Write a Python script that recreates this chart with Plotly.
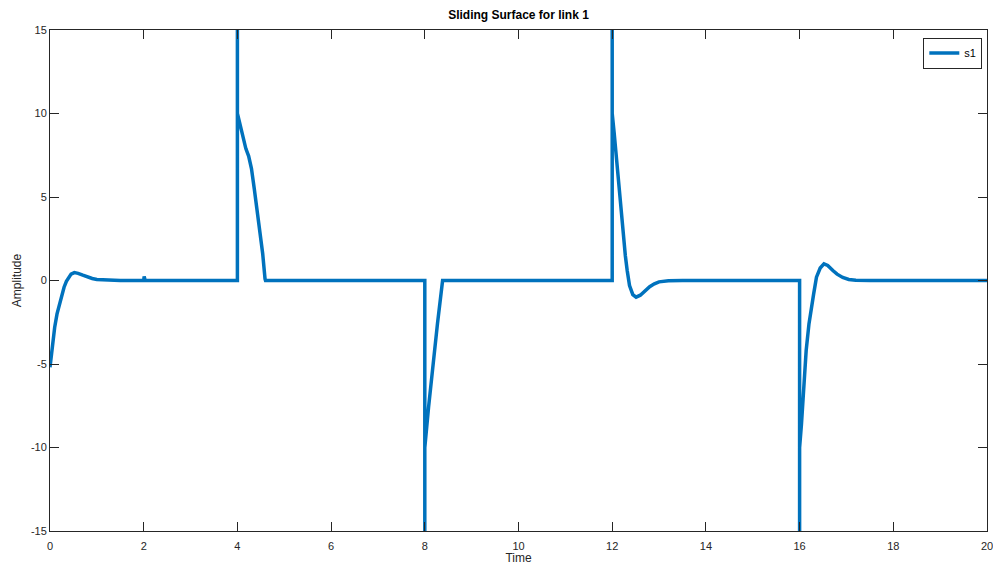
import plotly.graph_objects as go

# Sliding surface s1 over time
time = [0.0, 0.05, 0.1, 0.15, 0.2, 0.25, 0.3, 0.35, 0.4, 0.45, 0.52, 0.6, 0.7, 0.8, 0.9, 1.0, 1.2, 1.5,
        2.0, 2.01, 2.03,
        4.0, 4.0, 4.0, 4.06, 4.12, 4.18, 4.24, 4.3, 4.36, 4.42, 4.48, 4.54, 4.59, 4.6,
        8.0, 8.0, 8.0, 8.08, 8.17, 8.27, 8.38,
        12.0, 12.0, 12.0, 12.04, 12.08, 12.12, 12.16, 12.2, 12.24, 12.28, 12.32, 12.37, 12.44, 12.51, 12.6, 12.7, 12.8, 12.9, 13.0, 13.2, 13.5,
        16.0, 16.0, 16.0, 16.04, 16.07, 16.1, 16.14, 16.2, 16.25, 16.3, 16.36, 16.44, 16.52, 16.6, 16.71, 16.8, 16.92, 17.05, 17.2, 17.5,
        20.0]
s1 = [-5.2, -3.9, -2.8, -2.0, -1.4, -0.85, -0.4, -0.05, 0.22, 0.38, 0.47, 0.43, 0.32, 0.2, 0.12, 0.06, 0.02, 0.0,
      0.0, 0.25, 0.0,
      0.0, 60.0, 10.0, 9.3, 8.6, 7.9, 7.45, 6.7, 5.5, 4.3, 3.0, 1.6, 0.1, 0.0,
      0.0, -60.0, -10.0, -7.6, -5.0, -2.6, 0.0,
      0.0, 60.0, 10.0, 8.9, 7.6, 6.3, 5.0, 3.8, 2.6, 1.5, 0.6, -0.3, -0.85, -1.0, -0.88, -0.6, -0.37, -0.2, -0.08, -0.02, 0.0,
      0.0, -60.0, -10.0, -8.6, -7.2, -5.7, -4.2, -2.6, -1.6, -0.8, 0.2, 0.75, 1.0, 0.9, 0.6, 0.38, 0.18, 0.06, 0.01, 0.0,
      0.0]

x_ticks = [0, 2, 4, 6, 8, 10, 12, 14, 16, 18, 20]
y_ticks = [-15, -10, -5, 0, 5, 10, 15]

axis_color = "#262626"
font_family = "Liberation Sans, Arial, sans-serif"

fig = go.Figure()
fig.add_trace(go.Scatter(
    x=time, y=s1, mode="lines", name="s1",
    line=dict(color="#0072BD", width=3.5),
))

common_axis = dict(
    showgrid=False, zeroline=False, showline=True, linecolor=axis_color, linewidth=1,
    mirror="ticks", ticks="inside", ticklen=9, tickwidth=1, tickcolor=axis_color,
    tickfont=dict(family=font_family, size=11, color=axis_color),
    automargin=False, ticklabeloverflow="allow",
)

fig.update_layout(
    width=993, height=565,
    margin=dict(l=50, r=6, t=30, b=34),
    paper_bgcolor="white", plot_bgcolor="white",
    title=dict(text="<b>Sliding Surface for link 1</b>", x=0.5, xanchor="center",
               xref="paper", y=1 - 15 / 565, yanchor="middle",
               font=dict(family=font_family, size=12, color="black")),
    xaxis=dict(range=[0, 20], tickvals=x_ticks, ticktext=[str(v) for v in x_ticks],
               ticklabelstandoff=5,
               title=dict(text="Time", standoff=1,
                          font=dict(family=font_family, size=12, color=axis_color)),
               **common_axis),
    yaxis=dict(range=[-15, 15], tickvals=y_ticks, ticktext=[str(v) for v in y_ticks],
               title=dict(text="Amplitude", standoff=6,
                          font=dict(family=font_family, size=12, color=axis_color)),
               **common_axis),
    showlegend=True,
    legend=dict(x=0.995, y=0.985, xanchor="right", yanchor="top",
                bordercolor=axis_color, borderwidth=1, bgcolor="white",
                font=dict(family=font_family, size=11, color="black"),
                itemwidth=30, tracegroupgap=0),
)

fig.write_html("out.html", config={"displayModeBar": False},
               post_script="document.body.style.margin='0';document.body.style.overflow='hidden';")
